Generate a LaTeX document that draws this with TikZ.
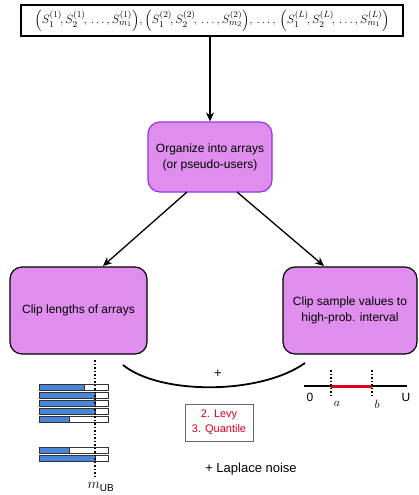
\documentclass[tikz,border=0pt]{standalone}
\usepackage{fontspec}
\setmainfont{Liberation Sans}
\usepackage{amsmath}
\usetikzlibrary{arrows.meta}

\definecolor{boxfill}{RGB}{224,142,238}
\definecolor{boxedge}{RGB}{150,50,230}
\definecolor{barblue}{RGB}{74,134,216}
\definecolor{clipred}{RGB}{220,0,30}

\tikzset{
  stepbox/.style={draw=black, fill=boxfill, rounded corners=12pt, line width=1.2pt,
    align=center, font=\fontsize{12}{16}\selectfont, inner sep=0pt},
  flow/.style={line width=1.3pt, -{Stealth[length=9pt,width=8pt]}},
  lenbar/.style={draw=black!80, line width=0.7pt},
  cutline/.style={line width=1.2pt, dash pattern=on 1.5pt off 2pt},
}

\newcommand{\userset}[2]{\Bigl(S_1^{(#1)}\!, S_2^{(#1)}\!,\,\dots, S_{#2}^{(#1)}\Bigr)}

\begin{document}
\begin{tikzpicture}[x=1pt,y=-1pt]
\useasboundingbox (0,0) rectangle (418,495);

% data sets of the L users
\node[draw=black, line width=1.6pt, minimum width=382pt, minimum height=31pt, inner sep=0pt,
  font=\fontsize{13.2}{13.2}\selectfont]
  (data) at (212,20.5) {$\userset{1}{m_1}, \userset{2}{m_2},\,\dots,\,\userset{L}{m_1}$};

% processing steps
\node[stepbox, draw=boxedge, minimum width=124pt, minimum height=70pt] (org) at (210,157)
  {Organize into arrays\\(or pseudo-users)};
\node[stepbox, minimum width=137pt, minimum height=87pt] (clipl) at (78.5,310.5)
  {Clip lengths of arrays};
\node[stepbox, minimum width=134pt, minimum height=87pt] (clipv) at (350,310.5)
  {Clip sample values to\\high-prob. interval};

\draw[flow] (data.south -| org.north) -- (org.north);
\coordinate (oL) at (187,192);
\coordinate (oR) at (237,192);
\coordinate (tL) at (103,266);
\coordinate (tR) at (324,266);
\draw[flow] (oL) -- (tL);
\draw[flow] (oR) -- (tR);

% joining arc
\coordinate (arcL) at (123,365);
\coordinate (arcR) at (305,363);
\draw[line width=1.8pt] (arcL) .. controls (160,395) and (260,395) .. (arcR);
\node[font=\fontsize{13}{13}\selectfont] (plus) at (218,374) {+};

% clipped array lengths
\foreach \y/\e in {384/84,392/95,400/95,408/95,416/69,447/69,455/95}{
  \fill[white] (39,\y) rectangle (108,\y+6);
  \fill[barblue] (39,\y) rectangle (\e,\y+6);
  \draw[lenbar] (39,\y) rectangle (108,\y+6);
  \draw[lenbar] (\e,\y) -- (\e,\y+6);
}
\coordinate (mtop) at (95,360);
\coordinate (mbot) at (95,478);
\draw[cutline] (mtop) -- (mbot);
\node[font=\fontsize{15}{15}\selectfont] (mub) at (101,487) {$m_{\text{\fontsize{10}{10}\selectfont UB}}$};

% clipped value interval
\coordinate (n0) at (304,386);
\coordinate (nU) at (407,386);
\coordinate (na) at (331,386);
\coordinate (nb) at (372,386);
\draw[line width=1.6pt] (n0) -- (nU);
\draw[clipred, line width=3pt] (na) -- (nb);
\draw[cutline] (331,370) -- (331,397);
\draw[cutline] (372,370) -- (372,397);
\node[font=\fontsize{12}{12}\selectfont] (zero) at (310,397) {\rmfamily 0};
\node[font=\fontsize{12}{12}\selectfont] (uu) at (406,397) {U};
\node[font=\fontsize{12}{12}\selectfont] (la) at (337,404) {$a$};
\node[font=\fontsize{12}{12}\selectfont] (lb) at (377,404) {$b$};

% estimators
\node[draw=black!60, line width=0.8pt, text=clipred, align=center, minimum width=68pt,
  minimum height=37pt, inner sep=0pt, font=\fontsize{11}{15}\selectfont] (est) at (219,422.5)
  {2. Levy\\3. Quantile};

\node[font=\fontsize{13}{13}\selectfont] (noise) at (251,469) {+ Laplace noise};
\end{tikzpicture}
\end{document}
